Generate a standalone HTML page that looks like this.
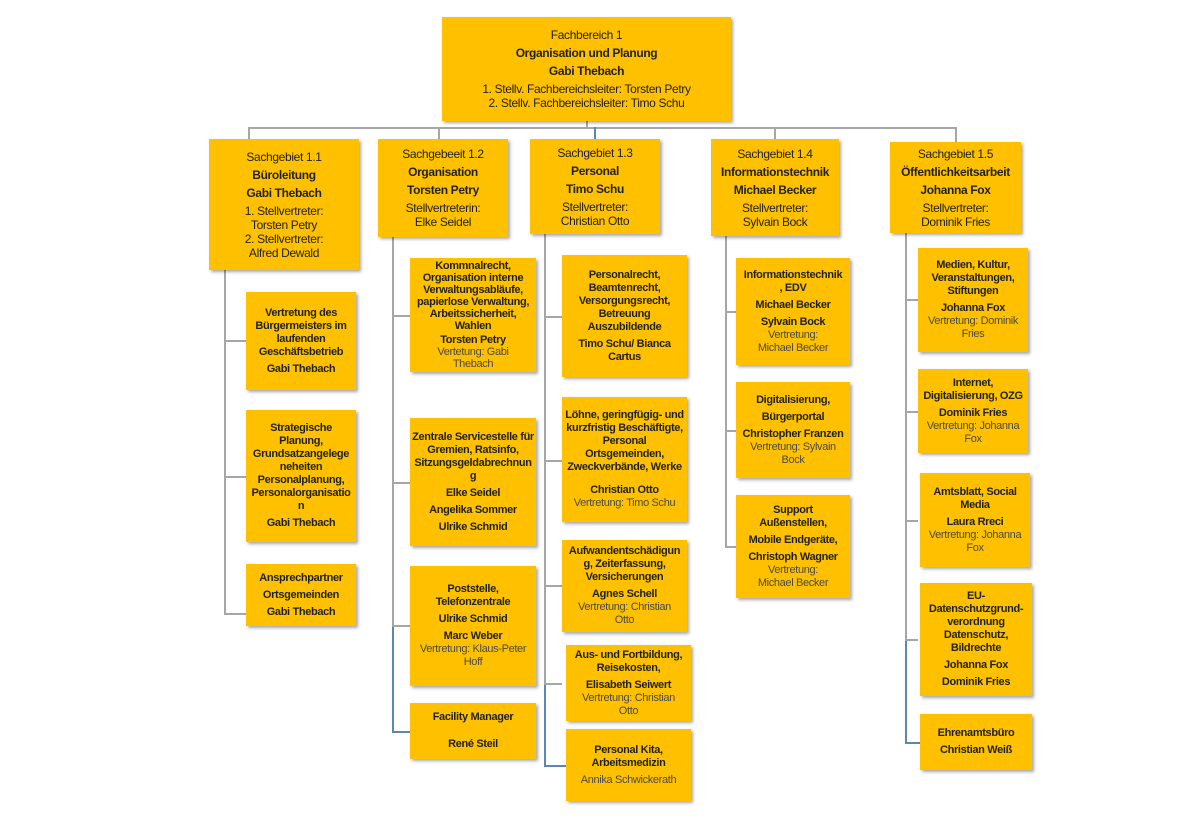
<!DOCTYPE html>
<html><head><meta charset="utf-8"><style>
body{margin:0;width:1180px;height:835px;background:#fff;position:relative;overflow:hidden;font-family:"Liberation Sans",sans-serif;}
.b{position:absolute;background:#FFC000;box-shadow:2px 2px 3px rgba(0,0,0,.35);display:flex;flex-direction:column;justify-content:center;align-items:center;text-align:center;font-size:11px;line-height:13px;color:#222;letter-spacing:-0.35px;box-sizing:border-box;padding:2px 1px}
.b div{margin:2px 0}
.k{font-weight:bold}
.n{color:#4a4a4a}
.l{position:absolute;background:#a6a6a6}
.bl{position:absolute;background:#5b86b5}
.h{font-size:12px;line-height:14px}
</style></head><body>
<div class="l" style="left:586px;top:121px;width:2px;height:7px"></div>
<div class="l" style="left:248px;top:127px;width:708px;height:2px"></div>
<div class="l" style="left:248px;top:127px;width:2px;height:12px"></div>
<div class="l" style="left:438px;top:127px;width:2px;height:12px"></div>
<div class="bl" style="left:594px;top:127px;width:2px;height:12px"></div>
<div class="l" style="left:774px;top:127px;width:2px;height:12px"></div>
<div class="l" style="left:955px;top:127px;width:2px;height:15px"></div>
<div class="l" style="left:224px;top:270px;width:2px;height:344px"></div>
<div class="l" style="left:224px;top:340px;width:22px;height:2px"></div>
<div class="l" style="left:224px;top:476px;width:22px;height:2px"></div>
<div class="l" style="left:224px;top:613px;width:22px;height:2px"></div>
<div class="l" style="left:392px;top:237px;width:2px;height:390px"></div>
<div class="bl" style="left:392px;top:627px;width:2px;height:105px"></div>
<div class="l" style="left:392px;top:315px;width:18px;height:2px"></div>
<div class="l" style="left:392px;top:482px;width:18px;height:2px"></div>
<div class="l" style="left:392px;top:625px;width:18px;height:2px"></div>
<div class="bl" style="left:392px;top:731px;width:18px;height:2px"></div>
<div class="l" style="left:544px;top:234px;width:2px;height:450px"></div>
<div class="bl" style="left:544px;top:684px;width:2px;height:82px"></div>
<div class="l" style="left:544px;top:316px;width:18px;height:2px"></div>
<div class="l" style="left:544px;top:460px;width:18px;height:2px"></div>
<div class="l" style="left:544px;top:585px;width:18px;height:2px"></div>
<div class="l" style="left:544px;top:683px;width:18px;height:2px"></div>
<div class="bl" style="left:544px;top:765px;width:22px;height:2px"></div>
<div class="l" style="left:725px;top:236px;width:2px;height:311px"></div>
<div class="l" style="left:725px;top:311px;width:11px;height:2px"></div>
<div class="l" style="left:725px;top:430px;width:11px;height:2px"></div>
<div class="l" style="left:725px;top:546px;width:11px;height:2px"></div>
<div class="l" style="left:905px;top:233px;width:2px;height:407px"></div>
<div class="bl" style="left:905px;top:640px;width:2px;height:103px"></div>
<div class="l" style="left:905px;top:299px;width:13px;height:2px"></div>
<div class="l" style="left:905px;top:411px;width:13px;height:2px"></div>
<div class="l" style="left:905px;top:520px;width:13px;height:2px"></div>
<div class="l" style="left:905px;top:639px;width:13px;height:2px"></div>
<div class="bl" style="left:905px;top:742px;width:15px;height:2px"></div>

<div class="b h" style="left:442px;top:17px;width:289px;height:104px">
<div>Fachbereich 1</div><div class="k">Organisation und Planung</div><div class="k">Gabi Thebach</div><div>1. Stellv. Fachbereichsleiter: Torsten Petry<br>2. Stellv. Fachbereichsleiter: Timo Schu</div></div>

<div class="b h" style="left:209px;top:139px;width:150px;height:131px"><div>Sachgebiet 1.1</div><div class="k">Büroleitung</div><div class="k">Gabi Thebach</div><div>1. Stellvertreter:<br>Torsten Petry<br>2. Stellvertreter:<br>Alfred Dewald</div></div>
<div class="b h" style="left:378px;top:139px;width:130px;height:98px"><div>Sachgebeeit 1.2</div><div class="k">Organisation</div><div class="k">Torsten Petry</div><div>Stellvertreterin:<br>Elke Seidel</div></div>
<div class="b h" style="left:530px;top:139px;width:130px;height:95px"><div>Sachgebiet 1.3</div><div class="k">Personal</div><div class="k">Timo Schu</div><div>Stellvertreter:<br>Christian Otto</div></div>
<div class="b h" style="left:711px;top:139px;width:128px;height:97px"><div>Sachgebiet 1.4</div><div class="k">Informationstechnik</div><div class="k">Michael Becker</div><div>Stellvertreter:<br>Sylvain Bock</div></div>
<div class="b h" style="left:890px;top:142px;width:131px;height:91px"><div>Sachgebiet 1.5</div><div class="k">Öffentlichkeitsarbeit</div><div class="k">Johanna Fox</div><div>Stellvertreter:<br>Dominik Fries</div></div>

<div class="b k" style="left:246px;top:292px;width:110px;height:98px;padding:2px 5px"><div>Vertretung des Bürgermeisters im laufenden Geschäftsbetrieb</div><div>Gabi Thebach</div></div>
<div class="b k" style="left:246px;top:410px;width:110px;height:132px;padding:2px 5px"><div>Strategische Planung, Grundsatzangelege neheiten Personalplanung, Personalorganisatio n</div><div>Gabi Thebach</div></div>
<div class="b k" style="left:246px;top:564px;width:110px;height:62px"><div>Ansprechpartner</div><div>Ortsgemeinden</div><div>Gabi Thebach</div></div>

<div class="b" style="left:410px;top:258px;width:126px;height:114px;padding:0 1px;line-height:12px"><div class="k" style="margin:0 0 2px">Kommnalrecht, Organisation interne Verwaltungsabläufe, papierlose Verwaltung, Arbeitssicherheit, Wahlen</div><div style="margin:0"><span class="k">Torsten Petry</span><br><span class="n">Vertetung: Gabi<br>Thebach</span></div></div>
<div class="b k" style="left:410px;top:418px;width:126px;height:128px"><div>Zentrale Servicestelle für Gremien, Ratsinfo, Sitzungsgeldabrechnun g</div><div>Elke Seidel</div><div>Angelika Sommer</div><div>Ulrike Schmid</div></div>
<div class="b" style="left:410px;top:566px;width:126px;height:120px;padding:2px 8px"><div class="k">Poststelle, Telefonzentrale</div><div class="k">Ulrike Schmid</div><div><span class="k">Marc Weber</span><br><span class="n">Vertretung: Klaus-Peter Hoff</span></div></div>
<div class="b k" style="left:410px;top:703px;width:126px;height:56px"><div>Facility Manager</div><div style="margin-top:12px">René Steil</div></div>

<div class="b k" style="left:562px;top:255px;width:125px;height:122px;padding:2px 6px"><div>Personalrecht, Beamtenrecht, Versorgungsrecht, Betreuung Auszubildende</div><div>Timo Schu/ Bianca Cartus</div></div>
<div class="b" style="left:562px;top:397px;width:125px;height:125px"><div class="k">Löhne, geringfügig- und kurzfristig Beschäftigte, Personal Ortsgemeinden, Zweckverbände, Werke</div><div style="margin-top:8px"><span class="k">Christian Otto</span><br><span class="n">Vertretung: Timo Schu</span></div></div>
<div class="b" style="left:562px;top:540px;width:125px;height:92px"><div class="k">Aufwandentschädigun g, Zeiterfassung, Versicherungen</div><div><span class="k">Agnes Schell</span><br><span class="n">Vertretung: Christian<br>Otto</span></div></div>
<div class="b" style="left:566px;top:645px;width:125px;height:76px"><div class="k">Aus- und Fortbildung, Reisekosten,</div><div><span class="k">Elisabeth Seiwert</span><br><span class="n">Vertretung: Christian<br>Otto</span></div></div>
<div class="b" style="left:566px;top:729px;width:125px;height:72px"><div class="k">Personal Kita,<br>Arbeitsmedizin</div><div class="n">Annika Schwickerath</div></div>

<div class="b" style="left:736px;top:258px;width:114px;height:107px"><div class="k">Informationstechnik<br>, EDV</div><div class="k">Michael Becker</div><div><span class="k">Sylvain Bock</span><br><span class="n">Vertretung:<br>Michael Becker</span></div></div>
<div class="b" style="left:736px;top:382px;width:114px;height:96px"><div class="k">Digitalisierung,</div><div class="k">Bürgerportal</div><div><span class="k">Christopher Franzen</span><br><span class="n">Vertretung: Sylvain<br>Bock</span></div></div>
<div class="b" style="left:736px;top:495px;width:114px;height:103px"><div class="k">Support<br>Außenstellen,</div><div class="k">Mobile Endgeräte,</div><div><span class="k">Christoph Wagner</span><br><span class="n">Vertretung:<br>Michael Becker</span></div></div>

<div class="b" style="left:918px;top:248px;width:110px;height:104px"><div class="k">Medien, Kultur, Veranstaltungen, Stiftungen</div><div><span class="k">Johanna Fox</span><br><span class="n">Vertretung: Dominik Fries</span></div></div>
<div class="b" style="left:918px;top:369px;width:110px;height:84px"><div class="k">Internet, Digitalisierung, OZG</div><div><span class="k">Dominik Fries</span><br><span class="n">Vertretung: Johanna Fox</span></div></div>
<div class="b" style="left:920px;top:473px;width:110px;height:94px"><div class="k">Amtsblatt, Social Media</div><div><span class="k">Laura Rreci</span><br><span class="n">Vertretung: Johanna Fox</span></div></div>
<div class="b k" style="left:920px;top:583px;width:112px;height:113px"><div>EU-<br>Datenschutzgrund-verordnung Datenschutz, Bildrechte</div><div>Johanna Fox</div><div>Dominik Fries</div></div>
<div class="b k" style="left:920px;top:714px;width:112px;height:56px"><div>Ehrenamtsbüro</div><div>Christian Weiß</div></div>
</body></html>
